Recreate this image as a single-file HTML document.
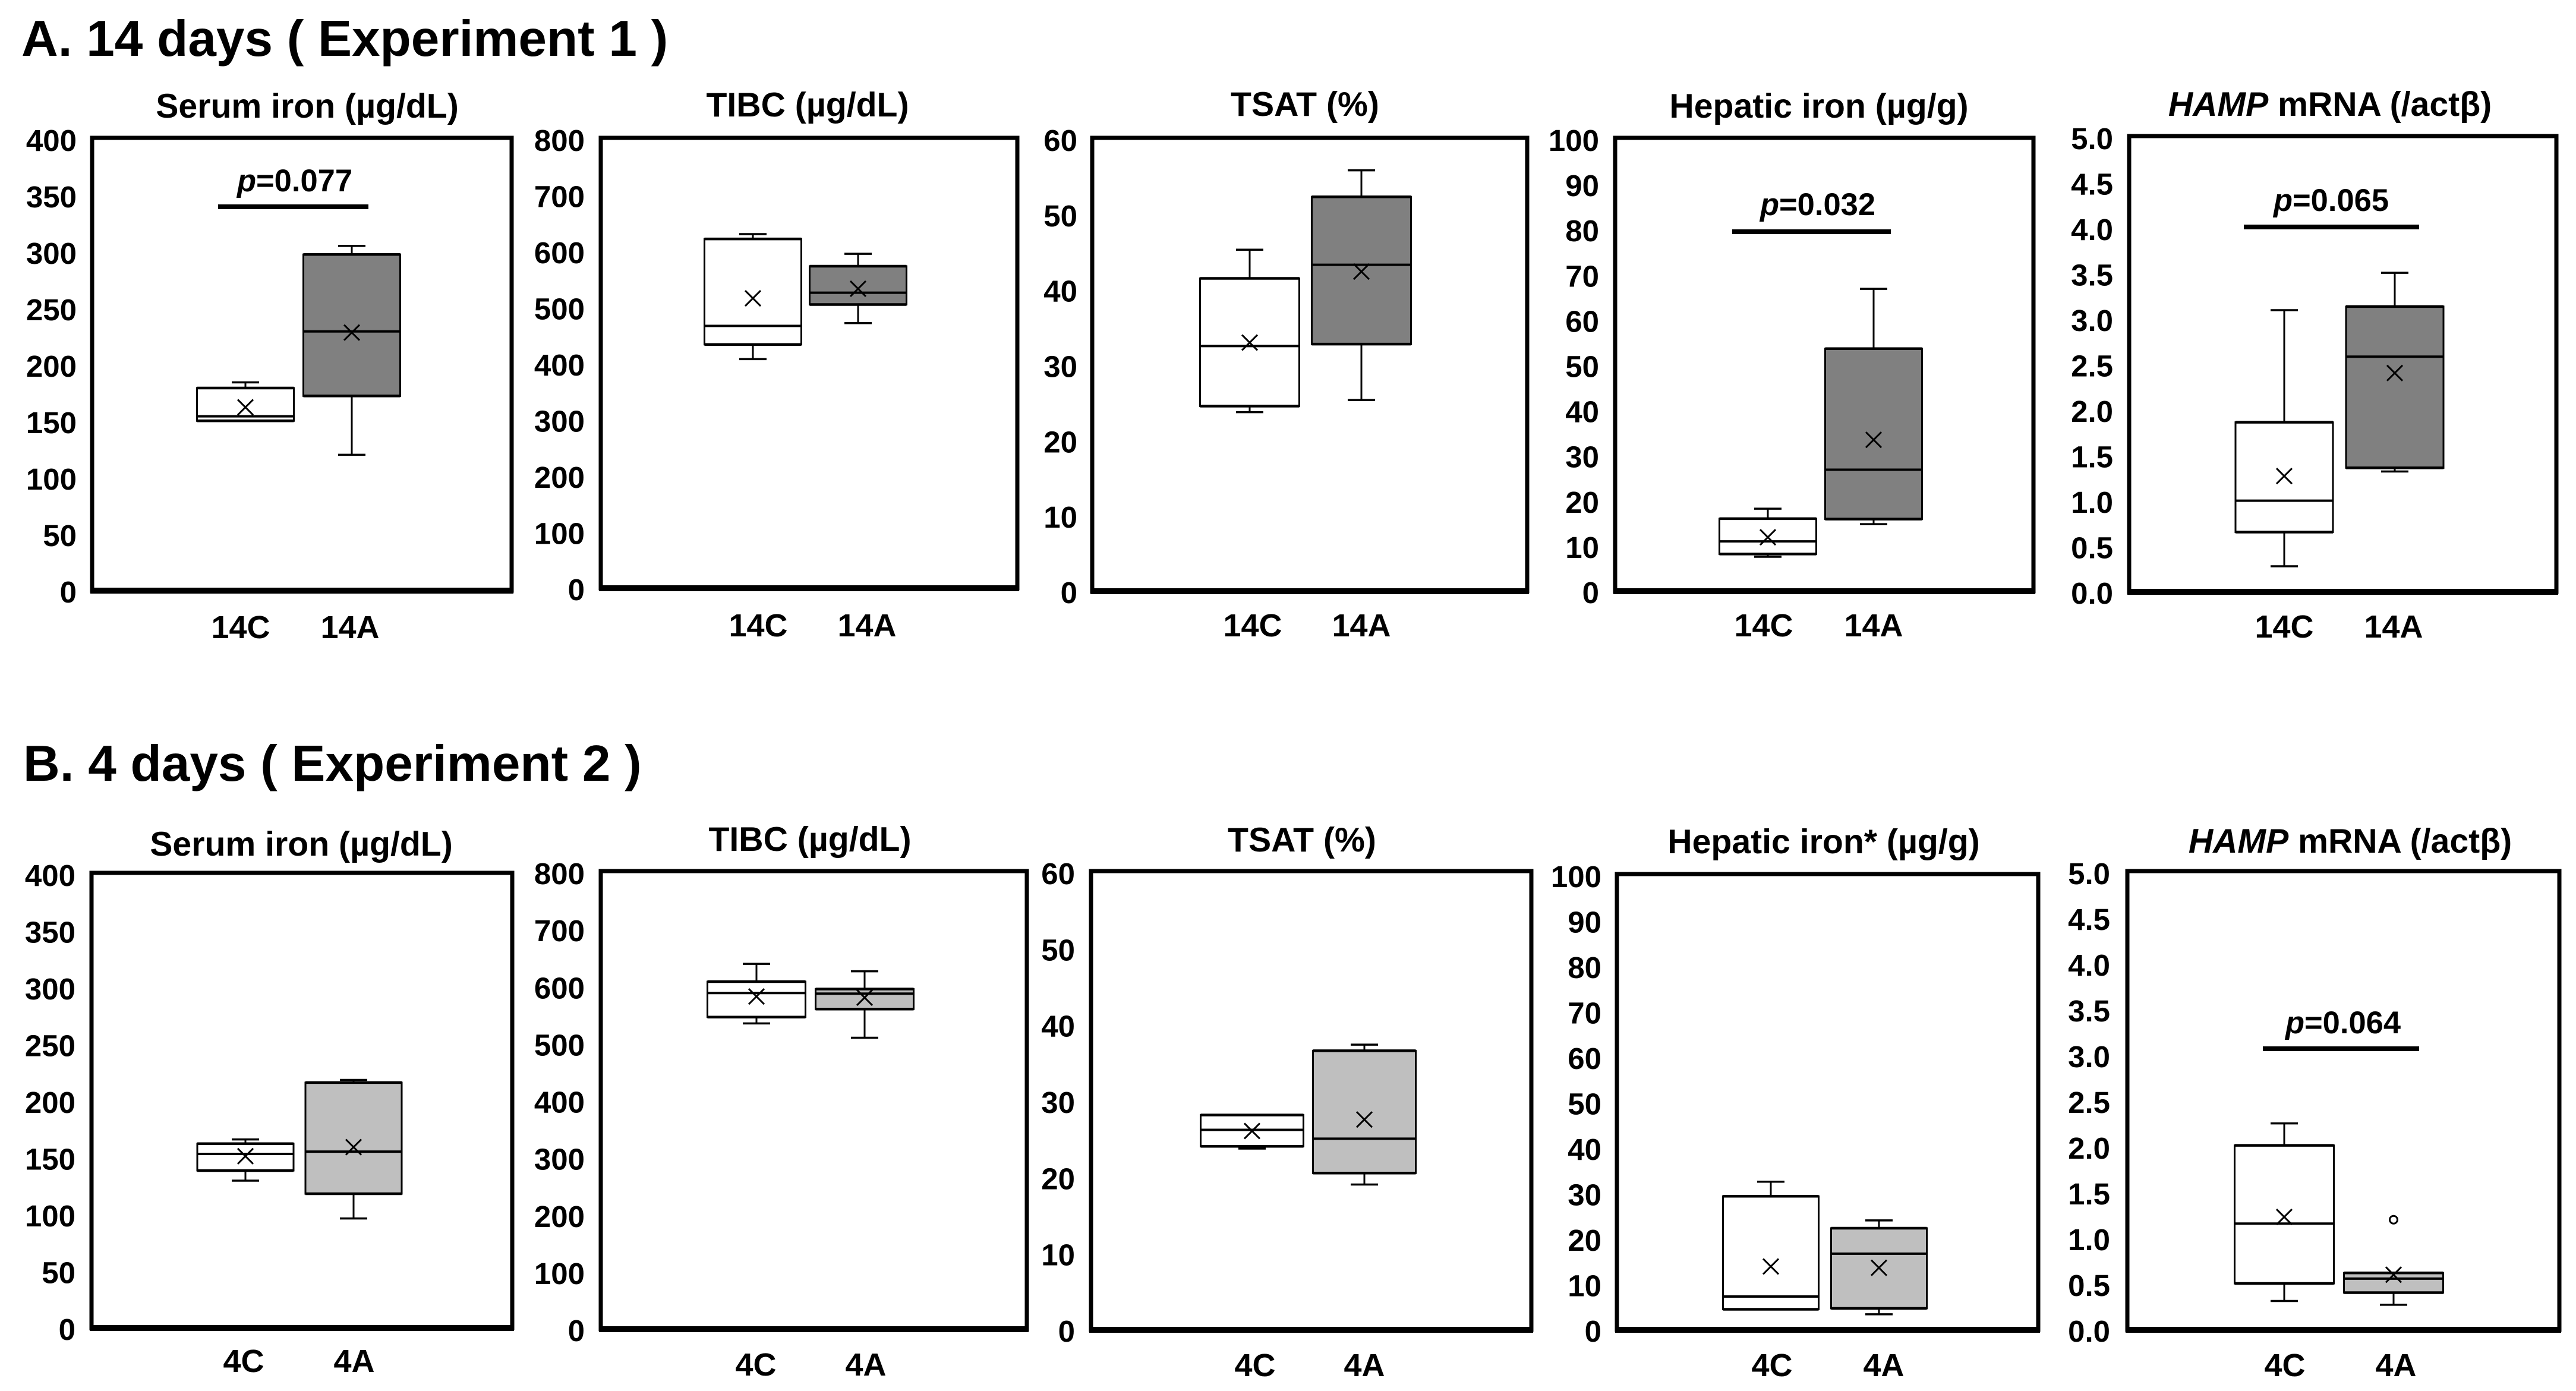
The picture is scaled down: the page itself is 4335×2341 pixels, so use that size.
<!DOCTYPE html>
<html lang="en">
<head>
<meta charset="utf-8">
<title>Iron parameters box plots</title>
<style>
html,body{margin:0;padding:0;background:#fff;}
svg{display:block;}
text{font-family:"Liberation Sans",Arial,sans-serif;font-weight:bold;fill:#000;}
</style>
</head>
<body>
<svg id="chart" xmlns="http://www.w3.org/2000/svg" width="4335" height="2341" viewBox="0 0 4335 2341">
<rect x="0" y="0" width="4335" height="2341" fill="#ffffff"/>
<text x="36" y="94" font-size="85.5">A. 14 days ( Experiment 1 )</text>
<text x="39" y="1314" font-size="85.5">B. 4 days ( Experiment 2 )</text>
</svg>
<script>
// Tick labels
const ticksIron = ['0','50','100','150','200','250','300','350','400'];
const ticksTibc = ['0','100','200','300','400','500','600','700','800'];
const ticksTsat = ['0','10','20','30','40','50','60'];
const ticksHepatic = ['0','10','20','30','40','50','60','70','80','90','100'];
const ticksHamp = ['0.0','0.5','1.0','1.5','2.0','2.5','3.0','3.5','4.0','4.5','5.0'];

// Categories
const categories14 = ['14C','14A'];
const categories4 = ['4C','4A'];

// Box statistics, in order: low whisker, Q1, median, Q3, high whisker, mean
const ironA14C = [150,150,154,179,184,162];
const ironA14A = [120,172,229,297,304.5,228];
const tibcA14C = [407,433,466,620.5,629,515];
const tibcA14A = [471,504,525,572,594,532];
const tsatA14C = [23.7,24.5,32.45,41.4,45.2,32.9];
const tsatA14A = [25.3,32.7,43.2,52.2,55.7,42.3];
const hepaticA14C = [7.6,8.2,11,16,18.2,11.9];
const hepaticA14A = [14.8,15.9,26.8,53.5,66.7,33.4];
const hampA14C = [0.28,0.655,1.0,1.86,3.09,1.27];
const hampA14A = [1.32,1.36,2.58,3.13,3.5,2.4];

const ironB4C = [129.5,138.4,153,162,165.7,151];
const ironB4A = [96.3,118,155,215.7,218,159];
const tibcB4C = [534,545,587,607,638,581];
const tibcB4A = [509,559,586,594,625,579];
const tsatB4C = [23.7,24,26.15,28.1,28.1,26];
const tsatB4A = [19,20.5,25,36.5,37.3,27.5];
const hepaticB4C = [4.5,4.5,7.3,29.3,32.5,13.9];
const hepaticB4A = [3.4,4.7,16.7,22.3,24,13.6];
const hampB4C = [0.314,0.505,1.158,2.01,2.25,1.23];
const hampB4A = [0.273,0.405,0.558,0.62,0.62,0.6];
const hampB4AOutliers = [1.2];

// Panel layout (pixels) kept apart from the data
const panels = [
 {id:'a-serum-iron',title:'Serum iron (µg/dL)',frame:[155,861,232,994],tx:517,ty:180,lx:129,ticks:ticksIron,cats:categories14,series:[ironA14C,ironA14A],cx:[413,592],bw:163,catX:[405,589],catY:1057,fill:'#808080',p:{t:'0.077',x1:367,x2:620,y:348,tx:496,ty:303}},
 {id:'a-tibc',title:'TIBC (µg/dL)',frame:[1011,1712,232,990],tx:1359,ty:178,lx:984,ticks:ticksTibc,cats:categories14,series:[tibcA14C,tibcA14A],cx:[1267,1444],bw:163,catX:[1276,1459],catY:1054,fill:'#808080'},
 {id:'a-tsat',title:'TSAT (%)',frame:[1838,2570,232,995],tx:2196,ty:177,lx:1813,ticks:ticksTsat,cats:categories14,series:[tsatA14C,tsatA14A],cx:[2103,2291],bw:167,catX:[2108,2291],catY:1054,fill:'#808080'},
 {id:'a-hepatic-iron',title:'Hepatic iron (µg/g)',frame:[2718,3422,232,995],tx:3061,ty:180,lx:2691,ticks:ticksHepatic,cats:categories14,series:[hepaticA14C,hepaticA14A],cx:[2975,3153],bw:163,catX:[2968,3153],catY:1054,fill:'#808080',p:{t:'0.032',x1:2915,x2:3182,y:390,tx:3059,ty:343}},
 {id:'a-hamp',hamp:true,title:' mRNA (/actβ)',frame:[3583,4302,229,996],tx:3921,ty:177,lx:3556,ticks:ticksHamp,cats:categories14,series:[hampA14C,hampA14A],cx:[3844,4030],bw:164,catX:[3844,4028],catY:1056,fill:'#808080',p:{t:'0.065',x1:3776,x2:4071,y:382,tx:3923,ty:336}},
 {id:'b-serum-iron',title:'Serum iron (µg/dL)',frame:[154,862,1469,2235],tx:507,ty:1422,lx:127,ticks:ticksIron,cats:categories4,series:[ironB4C,ironB4A],cx:[413,595],bw:162,catX:[410,596],catY:2292,fill:'#bfbfbf'},
 {id:'b-tibc',title:'TIBC (µg/dL)',frame:[1011,1728,1466,2237],tx:1363,ty:1414,lx:984,ticks:ticksTibc,cats:categories4,series:[tibcB4C,tibcB4A],cx:[1273,1455],bw:165,catX:[1272,1457],catY:2298,fill:'#bfbfbf'},
 {id:'b-tsat',title:'TSAT (%)',frame:[1836,2577,1466,2238],tx:2191,ty:1415,lx:1809,ticks:ticksTsat,cats:categories4,series:[tsatB4C,tsatB4A],cx:[2107,2296],bw:173,catX:[2112,2296],catY:2299,fill:'#bfbfbf'},
 {id:'b-hepatic-iron',title:'Hepatic iron* (µg/g)',frame:[2721,3430,1471,2238],tx:3069,ty:1418,lx:2695,ticks:ticksHepatic,cats:categories4,series:[hepaticB4C,hepaticB4A],cx:[2980,3162],bw:161,catX:[2982,3170],catY:2299,fill:'#bfbfbf'},
 {id:'b-hamp',hamp:true,title:' mRNA (/actβ)',frame:[3580,4307,1466,2238],tx:3955,ty:1417,lx:3551,ticks:ticksHamp,cats:categories4,series:[hampB4C,hampB4A],outliers:[[],hampB4AOutliers],cx:[3844,4028],bw:167,catX:[3845,4032],catY:2299,fill:'#bfbfbf',p:{t:'0.064',x1:3808,x2:4071,y:1765,tx:3943,ty:1720}}
];

const svg = document.getElementById('chart');
const NS = 'http://www.w3.org/2000/svg';

function make(parent, tag, attrs, name) {
  const el = document.createElementNS(NS, tag);
  for (const k in attrs) el.setAttribute(k, attrs[k]);
  
  
  parent.appendChild(el);
  return el;
}
function line(parent, x1, y1, x2, y2, w, name) {
  return make(parent, 'line', {x1:x1, y1:y1, x2:x2, y2:y2, stroke:'#000', 'stroke-width':w}, name);
}
function yAxis(frame, maxValue) {
  return function (v) { return frame[3] - v / maxValue * (frame[3] - frame[2]); };
}

function drawBox(g, stats, cx, bw, fill, y, prefix) {
  const low = stats[0], q1 = stats[1], med = stats[2], q3 = stats[3], high = stats[4], mean = stats[5];
  const capHalf = 23;
  const hw = bw / 2;
  if (high > q3) {
    line(g, cx, y(high), cx, y(q3), 3, prefix + '-upper-whisker');
    line(g, cx - capHalf, y(high), cx + capHalf, y(high), 3.5, prefix + '-upper-cap');
  }
  if (low < q1) {
    line(g, cx, y(q1), cx, y(low), 3, prefix + '-lower-whisker');
    line(g, cx - capHalf, y(low), cx + capHalf, y(low), 3.5, prefix + '-lower-cap');
  }
  make(g, 'rect', {x:cx - hw, y:y(q3), width:bw, height:y(q1) - y(q3), fill:fill, stroke:'#000', 'stroke-width':3}, prefix + '-box');
  line(g, cx - hw, y(q3), cx + hw, y(q3), 4.5, prefix + '-q3-edge');
  line(g, cx - hw, y(q1), cx + hw, y(q1), 4.5, prefix + '-q1-edge');
  line(g, cx - hw, y(med), cx + hw, y(med), 4, prefix + '-median');
  const m = y(mean), s = 13;
  line(g, cx - s, m - s, cx + s, m + s, 3, prefix + '-mean-stroke-a');
  line(g, cx - s, m + s, cx + s, m - s, 3, prefix + '-mean-stroke-b');
}

panels.forEach(function (p) {
  const g = make(svg, 'g', {}, p.id + '-panel');
  const f = p.frame;
  const maxValue = parseFloat(p.ticks[p.ticks.length - 1]);
  const y = yAxis(f, maxValue);

  // title
  const title = make(g, 'text', {x:p.tx, y:p.ty + 18, 'font-size':57.2, 'text-anchor':'middle'}, p.id + '-title');
  if (p.hamp) {
    const it = document.createElementNS(NS, 'tspan');
    it.setAttribute('font-style', 'italic');
    it.textContent = 'HAMP';
    title.appendChild(it);
    title.appendChild(document.createTextNode(p.title));
  } else {
    title.textContent = p.title;
  }

  // frame
  make(g, 'rect', {x:f[0], y:f[2], width:f[1] - f[0], height:f[3] - f[2], fill:'#fff', stroke:'#000', 'stroke-width':7}, p.id + '-plot-frame');
  line(g, f[0] - 3, f[3], f[1] + 3, f[3], 10, p.id + '-x-axis');

  // tick labels: the label offset relative to the frame shrinks slightly towards zero
  p.ticks.forEach(function (label) {
    const v = parseFloat(label);
    const t = make(g, 'text', {x:p.lx, y:y(v) + 20 + 2 * (v / maxValue), 'font-size':51, 'text-anchor':'end'}, p.id + '-y-tick-label');
    t.textContent = label;
  });

  // boxes
  p.series.forEach(function (stats, i) {
    drawBox(g, stats, p.cx[i], p.bw, i === 0 ? '#ffffff' : p.fill, y, p.id + '-' + p.cats[i]);
    if (p.outliers && p.outliers[i]) {
      p.outliers[i].forEach(function (v) {
        make(g, 'circle', {cx:p.cx[i], cy:y(v), r:6.5, fill:'#fff', stroke:'#000', 'stroke-width':3}, p.id + '-outlier');
      });
    }
    const c = make(g, 'text', {x:p.catX[i], y:p.catY + 17, 'font-size':54, 'text-anchor':'middle'}, p.id + '-category-label');
    c.textContent = p.cats[i];
  });

  // significance annotation
  if (p.p) {
    line(g, p.p.x1, p.p.y, p.p.x2, p.p.y, 8, p.id + '-significance-bar');
    const t = make(g, 'text', {x:p.p.tx, y:p.p.ty + 19, 'font-size':52.5, 'text-anchor':'middle'}, p.id + '-p-value');
    const it = document.createElementNS(NS, 'tspan');
    it.setAttribute('font-style', 'italic');
    it.textContent = 'p';
    t.appendChild(it);
    t.appendChild(document.createTextNode('=' + p.p.t));
  }
});
</script>
</body>
</html>
